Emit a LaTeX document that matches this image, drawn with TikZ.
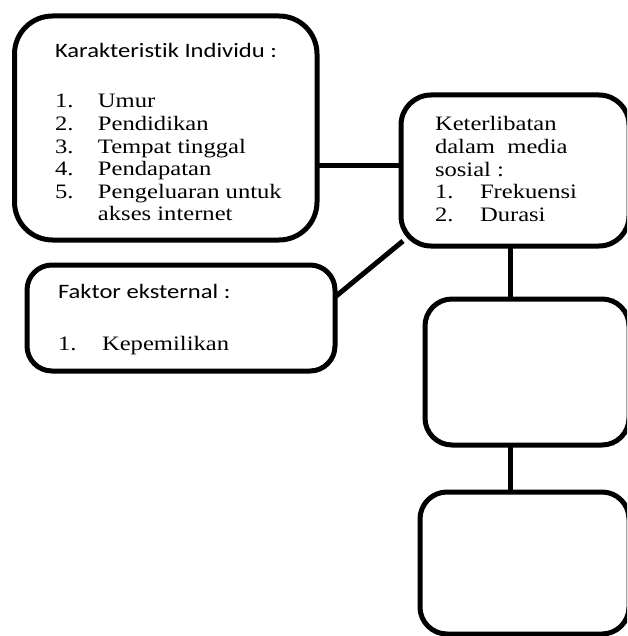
\documentclass[tikz,border=0pt]{standalone}
\usepackage{fontspec}
\setmainfont{Liberation Serif}
\newfontfamily\calfont[Ligatures={NoCommon,NoRare}]{Carlito}
\usepackage{graphicx}
\newcommand\hstretch[1]{\scalebox{1.2}[1]{#1}}
\begin{document}
\begin{tikzpicture}[x=1pt,y=-1pt,
  box/.style={draw=black, line width=5pt, inner sep=0pt, outer sep=0pt, fill=white, rectangle},
  conn/.style={draw=black, line width=5pt},
  txt/.style={anchor=base west, inner sep=0pt, outer sep=0pt, font=\fontsize{20.5}{22.6}\selectfont}]
\useasboundingbox (0,0) rectangle (627,636);
\clip (0,0) rectangle (627,636);
% boxes
\node[box, rounded corners=38pt, minimum width=302.5pt, minimum height=224pt] (indiv) at (165.75,128) {};
\node[box, rounded corners=30pt, minimum width=228pt, minimum height=151pt] (ket) at (515,170.5) {};
\node[box, rounded corners=25pt, minimum width=308pt, minimum height=106pt] (faktor) at (181,318) {};
\node[box, rounded corners=27pt, minimum width=204pt, minimum height=146pt] (boxc) at (527,372) {};
\node[box, rounded corners=27pt, minimum width=209pt, minimum height=142pt] (boxd) at (524.5,563) {};
% texts
\node[txt] (tindivh) at (55,58) {\hstretch{\calfont Karakteristik Individu :}};
\node[txt] (tindivl) at (55,108) {\hstretch{\begin{tabular}[t]{@{}p{35.8pt}@{}l@{}}
1. & Umur\\
2. & Pendidikan\\
3. & Tempat tinggal\\
4. & Pendapatan\\
5. & Pengeluaran untuk\\
 & akses internet
\end{tabular}}};
\node[txt] (tket) at (435,131) {\hstretch{\begin{tabular}[t]{@{}p{37.5pt}@{}l@{}}
\multicolumn{2}{@{}l@{}}{Keterlibatan}\\
\multicolumn{2}{@{}l@{}}{dalam\ \ media}\\
\multicolumn{2}{@{}l@{}}{sosial :}\\
1. & Frekuensi\\
2. & Durasi
\end{tabular}}};
\node[txt] (tfakh) at (58,298) {\hstretch{\calfont Faktor eksternal :}};
\node[txt] (tfakl) at (58,350) {\hstretch{\begin{tabular}[t]{@{}p{36.7pt}@{}l@{}}
1. & Kepemilikan
\end{tabular}}};
% connectors
\coordinate (hy) at (0,166);
\coordinate (dy) at (0,297);
\coordinate (dend) at (403,241);
\coordinate (vx) at (510,0);
\draw[conn] (indiv.east |- hy) -- (ket.west |- hy);
\draw[conn] (faktor.east |- dy) -- (dend);
\draw[conn] (ket.south -| vx) -- (boxc.north -| vx);
\draw[conn] (boxc.south -| vx) -- (boxd.north -| vx);
\end{tikzpicture}
\end{document}
